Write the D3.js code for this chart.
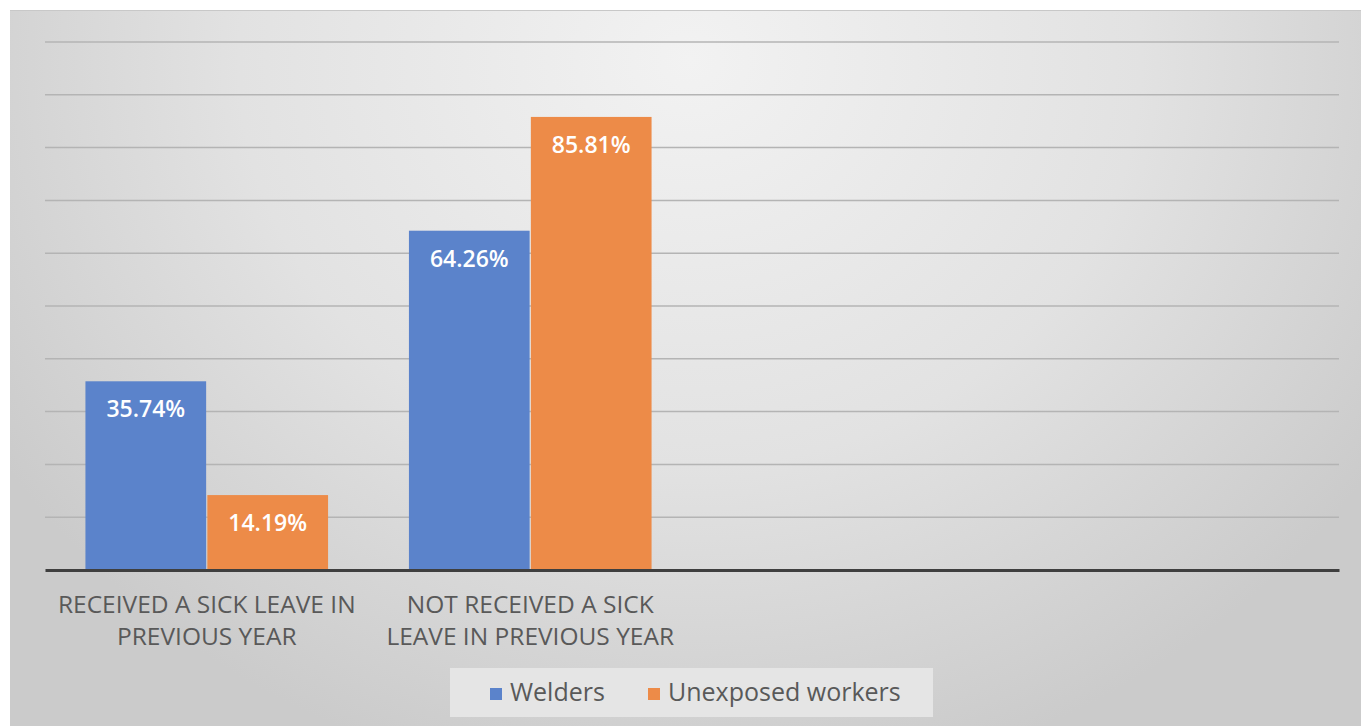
<!DOCTYPE html>
<html>
<head>
<meta charset="utf-8">
<script src="https://cdn.jsdelivr.net/npm/d3@7"></script>
<style>
  body { margin: 0; background: #fff; }
  svg { display: block; font-family: 'Open Sans', 'Liberation Sans', sans-serif; }
</style>
</head>
<body>
<svg id="chart" width="1361" height="726"></svg>
<script>
const categories = [
  ['RECEIVED A SICK LEAVE IN', 'PREVIOUS YEAR'],
  ['NOT RECEIVED A SICK', 'LEAVE IN PREVIOUS YEAR'],
  [''],
  ['']
];
const seriesNames = ['Welders', 'Unexposed workers'];
const welders = [0.3574, 0.6426, null, null];
const unexposed = [0.1419, 0.8581, null, null];
const yTicks = [0, 0.1, 0.2, 0.3, 0.4, 0.5, 0.6, 0.7, 0.8, 0.9, 1.0];

const colors = ['#5b83cb', '#ed8b48'];

const svg = d3.select('#chart');
const margin = { top: 42, left: 45, right: 22, bottom: 156 };
const totalWidth = 1361;
const totalHeight = 726;
const width = totalWidth - margin.left - margin.right;
const height = totalHeight - margin.top - margin.bottom;

/* background gradient */
const defs = svg.append('defs');
const grad = defs.append('radialGradient')
  .attr('id', 'bg')
  .attr('gradientUnits', 'userSpaceOnUse')
  .attr('cx', 690).attr('cy', 60)
  .attr('r', 820)
  .attr('gradientTransform', 'translate(690,60) scale(1,0.9) translate(-690,-60)');
grad.append('stop').attr('offset', '0%').attr('stop-color', '#f2f2f2');
grad.append('stop').attr('offset', '55%').attr('stop-color', '#e2e2e2');
grad.append('stop').attr('offset', '100%').attr('stop-color', '#cbcbcb');

svg.append('rect')
  .attr('x', 10).attr('y', 10)
  .attr('width', totalWidth - 10).attr('height', totalHeight - 10)
  .attr('fill', 'url(#bg)');
svg.append('line')
  .attr('x1', 10).attr('x2', totalWidth)
  .attr('y1', 10.5).attr('y2', 10.5)
  .attr('stroke', '#c8c8c8');

const x0 = d3.scaleBand(d3.range(categories.length), [0, width])
  .paddingInner(0.25).paddingOuter(0.125);
const x1 = d3.scaleBand(d3.range(seriesNames.length), [0, x0.bandwidth()])
  .paddingInner(0.01);
const y = d3.scaleLinear([0, 1], [height, 0]);

const g = svg.append('g').attr('transform', `translate(${margin.left},${margin.top})`);

/* grid lines */
g.append('g')
  .selectAll('line')
  .data(yTicks.slice(1))
  .enter()
  .append('line')
  .attr('x1', 0)
  .attr('x2', width)
  .attr('y1', d => y(d))
  .attr('y2', d => y(d))
  .attr('stroke', '#b4b4b4')
  .attr('stroke-width', 1.5);

/* bars */
const rows = categories.map((c, i) => [welders[i], unexposed[i]]);
const groups = g.append('g')
  .selectAll('g')
  .data(rows)
  .enter()
  .append('g')
  .attr('transform', (d, i) => `translate(${x0(i)},0)`);

groups.each(function (d) {
  const grp = d3.select(this);
  const vals = d.map((v, j) => ({ v, j })).filter(e => e.v != null);
  grp.selectAll('rect')
    .data(vals)
    .enter()
    .append('rect')
    .attr('x', e => x1(e.j))
    .attr('y', e => y(e.v))
    .attr('width', x1.bandwidth())
    .attr('height', e => height - y(e.v))
    .attr('fill', e => colors[e.j]);
  grp.selectAll('text')
    .data(vals)
    .enter()
    .append('text')
    .attr('x', e => x1(e.j) + x1.bandwidth() / 2)
    .attr('y', e => y(e.v) + 36)
    .attr('text-anchor', 'middle')
    .attr('fill', '#fff')
    .attr('font-size', 23)
    .attr('font-weight', 600)
    .text(e => (e.v * 100).toFixed(2) + '%');
});

/* x axis */
const xAxis = d3.axisBottom(d3.scaleLinear([0, 1], [0, width])).ticks(0).tickSize(0);
g.append('g')
  .attr('transform', `translate(0,${height})`)
  .call(xAxis)
  .call(a => a.select('.domain').attr('stroke', '#3f3f3f').attr('stroke-width', 3));

g.append('g')
  .selectAll('text')
  .data(categories)
  .enter()
  .append('text')
  .attr('x', (d, i) => x0(i) + x0.bandwidth() / 2)
  .attr('y', height + 43)
  .attr('text-anchor', 'middle')
  .attr('fill', '#595959')
  .attr('font-size', 24.5)
  .each(function (d) {
    const t = d3.select(this);
    d.forEach((line, k) => {
      t.append('tspan')
        .attr('x', t.attr('x'))
        .attr('dy', k === 0 ? 0 : 32)
        .text(line);
    });
  });

/* legend */
const legend = svg.append('g');
legend.append('rect')
  .attr('x', 450).attr('y', 668)
  .attr('width', 483).attr('height', 49)
  .attr('fill', '#e5e5e5');
const legendX = [490, 648];
seriesNames.forEach((name, i) => {
  legend.append('rect')
    .attr('x', legendX[i]).attr('y', 688)
    .attr('width', 12).attr('height', 12)
    .attr('fill', colors[i]);
  legend.append('text')
    .attr('x', legendX[i] + 20).attr('y', 701)
    .attr('fill', '#595959')
    .attr('font-size', 25)
    .text(name);
});
</script>
</body>
</html>
